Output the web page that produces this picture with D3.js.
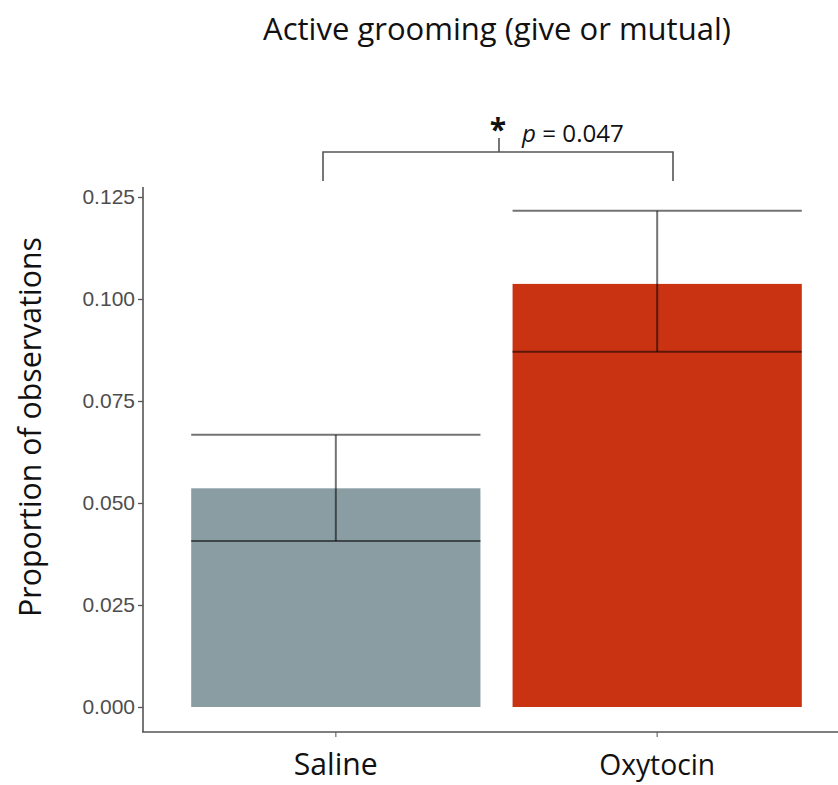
<!DOCTYPE html>
<html>
<head>
<meta charset="utf-8">
<script src="https://cdn.jsdelivr.net/npm/d3@7"></script>
<style>
  body { margin: 0; background: white; }
  svg { display: block; }
</style>
</head>
<body>
<svg class="svgMain" width="838" height="785"></svg>
<script>
// Bar chart: active grooming, saline vs oxytocin

var groups = ["Saline", "Oxytocin"];
var means = [0.0536, 0.1037];
var errLow = [0.0407, 0.0871];
var errHigh = [0.0667, 0.1216];
var barColors = ["#8a9da3", "#c93312"];
var yTicks = [0, 0.025, 0.05, 0.075, 0.1, 0.125];

var TITLE_FONT = "'Open Sans', 'Noto Sans', sans-serif";
var TICK_FONT = "'Liberation Sans', Arial, sans-serif";

var svgMain = d3.select(".svgMain");

// scales (ggplot-like expansion)
var x = d3.scaleBand()
    .domain(groups)
    .range([143, 850])
    .paddingInner(0.1)
    .paddingOuter(0.15);

var y = d3.scaleLinear()
    .domain([0, 0.125])
    .range([707, 197]);

// shrink/grow a text so that it spans a given width
function fitText (sel, target) {
    var fs = parseFloat(sel.attr("font-size"));
    var w = sel.node().getComputedTextLength();
    sel.attr("font-size", (fs * target / w).toFixed(2));
}

// bars
svgMain.selectAll(".bar")
    .data(groups)
    .enter().append("rect")
    .attr("class", "bar")
    .attr("x", function (d) { return x(d); })
    .attr("y", function (d, i) { return y(means[i]); })
    .attr("width", x.bandwidth())
    .attr("height", function (d, i) { return y(0) - y(means[i]); })
    .attr("fill", function (d, i) { return barColors[i]; });

// error bars
var err = svgMain.append("g")
    .attr("stroke", "#000")
    .attr("stroke-opacity", 0.55)
    .attr("stroke-width", 2)
    .attr("fill", "none");
groups.forEach(function (g, i) {
    var cx = x(g) + x.bandwidth() / 2;
    err.append("line")
        .attr("x1", cx).attr("x2", cx)
        .attr("y1", y(errLow[i])).attr("y2", y(errHigh[i]));
    err.append("line")
        .attr("x1", x(g)).attr("x2", x(g) + x.bandwidth())
        .attr("y1", y(errLow[i])).attr("y2", y(errLow[i]));
    err.append("line")
        .attr("x1", x(g)).attr("x2", x(g) + x.bandwidth())
        .attr("y1", y(errHigh[i])).attr("y2", y(errHigh[i]));
});

// y axis
var yAxis = svgMain.append("g")
    .attr("transform", "translate(143,0)")
    .call(d3.axisLeft(y).tickValues(yTicks).tickFormat(d3.format(".3f")).tickSize(5).tickPadding(3));
yAxis.select(".domain").remove();
yAxis.selectAll(".tick line").attr("stroke", "#555").attr("stroke-width", 1.3);
yAxis.selectAll(".tick text")
    .attr("fill", "#4d4d4d")
    .attr("font-family", TICK_FONT)
    .attr("font-size", 21);
svgMain.append("line")
    .attr("x1", 143).attr("x2", 143)
    .attr("y1", 187).attr("y2", 732)
    .attr("stroke", "#555").attr("stroke-width", 1.6);

// x axis
var xAxis = svgMain.append("g")
    .attr("transform", "translate(0,732)")
    .call(d3.axisBottom(x).tickSize(5).tickFormat(""));
xAxis.select(".domain").remove();
xAxis.selectAll(".tick line").attr("stroke", "#777").attr("stroke-width", 1.3);
svgMain.append("line")
    .attr("x1", 142).attr("x2", 838)
    .attr("y1", 732).attr("y2", 732)
    .attr("stroke", "#555").attr("stroke-width", 1.6);

var xLabelW = { "Saline": 84, "Oxytocin": 116 };
groups.forEach(function (g) {
    var t = svgMain.append("text")
        .attr("x", x(g) + x.bandwidth() / 2).attr("y", 775)
        .attr("text-anchor", "middle")
        .attr("font-family", TITLE_FONT)
        .attr("font-size", 28)
        .attr("fill", "#111")
        .text(g);
    fitText(t, xLabelW[g]);
});

// title
var title = svgMain.append("text")
    .attr("x", 497).attr("y", 40)
    .attr("text-anchor", "middle")
    .attr("font-family", TITLE_FONT)
    .attr("font-size", 28)
    .attr("fill", "#111")
    .text("Active grooming (give or mutual)");
fitText(title, 468);

// y label
var yLab = svgMain.append("text")
    .attr("transform", "translate(41,427) rotate(-90)")
    .attr("text-anchor", "middle")
    .attr("font-family", TITLE_FONT)
    .attr("font-size", 28)
    .attr("fill", "#111")
    .text("Proportion of observations");
fitText(yLab, 380);

// significance bracket
svgMain.append("path")
    .attr("d", "M323,181 V152 H673 V181 M499,152 V138")
    .attr("fill", "none")
    .attr("stroke", "#555")
    .attr("stroke-width", 1.6);
svgMain.append("text")
    .attr("x", 498).attr("y", 140)
    .attr("text-anchor", "middle")
    .attr("font-family", TITLE_FONT)
    .attr("font-size", 30)
    .attr("font-weight", "bold")
    .attr("fill", "#111")
    .text("*");
var pText = svgMain.append("text")
    .attr("x", 522).attr("y", 142)
    .attr("font-family", TITLE_FONT)
    .attr("font-size", 22)
    .attr("fill", "#111");
pText.append("tspan").attr("font-style", "italic").text("p");
pText.append("tspan").text(" = 0.047");
fitText(pText, 102);
</script>
</body>
</html>
